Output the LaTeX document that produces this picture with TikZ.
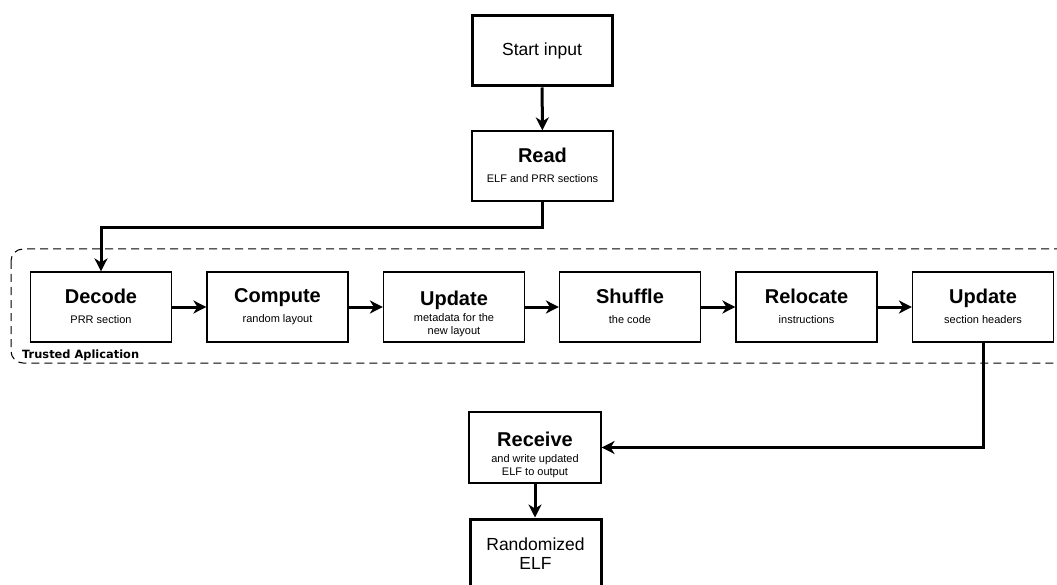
\documentclass[tikz,border=0pt]{standalone}
\usepackage{fontspec}
\setmainfont{Liberation Sans}
\newfontfamily\tagfont{DejaVu Sans}
\usetikzlibrary{arrows.meta}
% bold step name over a one-line description
\newcommand\steptext[2]{{\fontsize{20}{22}\selectfont\bfseries #1}\\[7pt]#2\vphantom{y}}
% bold step name over a two-line description, set a little lower in the box
\newcommand\steptextii[3]{{\fontsize{20}{22}\selectfont\bfseries\rule{0pt}{29pt}#1}\\[3pt]#2\\#3\vphantom{y}}
\begin{document}
\begin{tikzpicture}[x=1pt,y=-1pt,
  stepbox/.style={draw=black,line width=1.2pt,minimum width=141pt,minimum height=70pt,
    align=center,inner sep=0pt,font=\fontsize{11}{13}\selectfont},
  termbox/.style={draw=black,line width=3pt,minimum width=140pt,minimum height=70pt,
    align=center,inner sep=0pt,font=\fontsize{17.5}{19}\selectfont},
  flow/.style={line width=3pt,-{Stealth[length=13pt,width=13pt,inset=4pt]}},
  zone/.style={draw=black,dash pattern=on 8pt off 5pt,line width=1pt,rounded corners=12pt}]
\useasboundingbox (0,0) rectangle (1057,585);
\clip (0,0) rectangle (1057,585);

% trusted application region
\draw[zone] (11,249) rectangle (1080,363);
\node[anchor=base west,inner sep=0pt,font=\tagfont\bfseries\fontsize{11.4}{13}\selectfont]
  (tag) at (22,358.5) {Trusted Aplication};

% terminals
\node[termbox] (start) at (542,51) {Start input};
\node[termbox,minimum width=131pt] (rand) at (535.5,554) {Randomized\\ELF};

% steps
\node[stepbox] (read) at (542.5,166) {\steptext{Read}{ELF and PRR sections}};
\node[stepbox] (dec)  at (101,307)   {\steptext{Decode}{PRR section}};
\node[stepbox] (comp) at (277.5,307) {\steptext{Compute}{random layout}};
\node[stepbox] (upd1) at (454,307)   {\steptextii{Update}{metadata for the}{new layout}};
\node[stepbox] (shuf) at (630,307)   {\steptext{Shuffle}{the code}};
\node[stepbox] (rel)  at (806.5,307) {\steptext{Relocate}{instructions}};
\node[stepbox] (upd2) at (983,307)   {\steptext{Update}{section headers}};
\node[stepbox,minimum width=132pt,minimum height=71pt] (recv) at (535,447.5)
  {\steptextii{Receive}{and write updated}{ELF to output}};

% connectors
\coordinate (bendA) at (542,228);
\draw[flow] (start) -- (read);
\draw[flow] (read.south) -- (read.south |- bendA) -| (dec.north);
\draw[flow] (dec) -- (comp);
\draw[flow] (comp) -- (upd1);
\draw[flow] (upd1) -- (shuf);
\draw[flow] (shuf) -- (rel);
\draw[flow] (rel) -- (upd2);
\draw[flow] (upd2.south) |- (recv.east);
\draw[flow] (recv.south) -- (recv.south |- rand.north);
\end{tikzpicture}
\end{document}
